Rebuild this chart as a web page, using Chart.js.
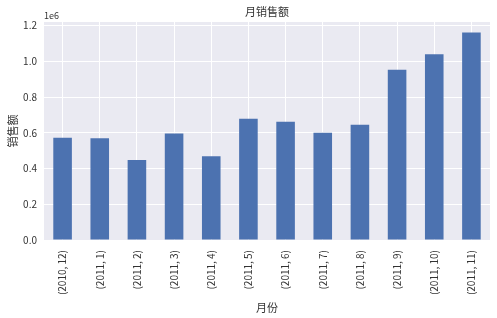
<!DOCTYPE html>
<html>
<head>
<meta charset="utf-8">
<script src="https://cdn.jsdelivr.net/npm/chart.js@4"></script>
<style>
  html, body { margin: 0; padding: 0; background: #fff; }
  #wrap { width: 497px; height: 318px; position: relative; }
</style>
</head>
<body>
<div id="wrap"><canvas id="salesChart"></canvas></div>
<script>
// 月份 (year, month) labels and monthly sales values
var months = ["(2010, 12)", "(2011, 1)", "(2011, 2)", "(2011, 3)", "(2011, 4)", "(2011, 5)",
              "(2011, 6)", "(2011, 7)", "(2011, 8)", "(2011, 9)", "(2011, 10)", "(2011, 11)"];
var sales = [572713, 569445, 447137, 595500, 469200, 678594,
             661214, 600091, 645344, 952838, 1039319, 1161817];
var yTicks = [0, 200000, 400000, 600000, 800000, 1000000, 1200000];

var font = "'Noto Sans CJK SC', 'DejaVu Sans', sans-serif";
var textColor = "#333333";

// draws the chart title and the "1e6" offset text
var extraText = {
  id: "extraText",
  afterDraw: function (chart) {
    var ctx = chart.ctx;
    var area = chart.chartArea;
    ctx.save();
    ctx.fillStyle = textColor;
    ctx.font = "11px " + font;
    ctx.textAlign = "center";
    ctx.textBaseline = "middle";
    ctx.fillText("月销售额", (area.left + area.right) / 2, 12);
    ctx.font = "9px " + font;
    ctx.textAlign = "left";
    ctx.fillText("1e6", area.left, 16);
    ctx.restore();
  }
};

new Chart(document.getElementById("salesChart"), {
  type: "bar",
  data: {
    labels: months,
    datasets: [{
      label: "销售额",
      data: sales,
      backgroundColor: "#4c72b0",
      borderWidth: 0,
      barPercentage: 0.5,
      categoryPercentage: 1.0
    }]
  },
  options: {
    responsive: true,
    maintainAspectRatio: false,
    animation: false,
    layout: { padding: { top: 22, right: 7, left: 0, bottom: 0 } },
    plugins: {
      legend: { display: false },
      tooltip: { enabled: false },
      title: { display: false }
    },
    scales: {
      x: {
        grid: { color: "#ffffff", lineWidth: 1, offset: false, drawTicks: false },
        border: { display: false },
        ticks: {
          color: textColor,
          font: { family: font, size: 10 },
          maxRotation: 90,
          minRotation: 90,
          padding: 10,
          autoSkip: false
        },
        title: {
          display: true,
          text: "月份",
          color: textColor,
          font: { family: font, size: 11 },
          padding: { top: 4, bottom: 4 }
        },
        afterFit: function (scale) { scale.height = 78; }
      },
      y: {
        min: 0,
        max: 1220000,
        grid: { color: "#ffffff", lineWidth: 1, drawTicks: false },
        border: { display: false },
        afterBuildTicks: function (scale) {
          scale.ticks = yTicks.map(function (v) { return { value: v }; });
        },
        ticks: {
          color: textColor,
          font: { family: font, size: 10 },
          padding: 7,
          callback: function (v) { return (v / 1e6).toFixed(1); }
        },
        title: {
          display: true,
          text: "销售额",
          color: textColor,
          font: { family: font, size: 11 },
          padding: { top: 6, bottom: 2 }
        },
        afterFit: function (scale) { scale.width = 44; }
      }
    }
  },
  plugins: [
    {
      id: "plotBg",
      beforeDraw: function (chart) {
        var a = chart.chartArea;
        chart.ctx.save();
        chart.ctx.fillStyle = "#eaeaf2";
        chart.ctx.fillRect(a.left, a.top, a.right - a.left, a.bottom - a.top);
        chart.ctx.restore();
      }
    },
    extraText
  ]
});
</script>
</body>
</html>
